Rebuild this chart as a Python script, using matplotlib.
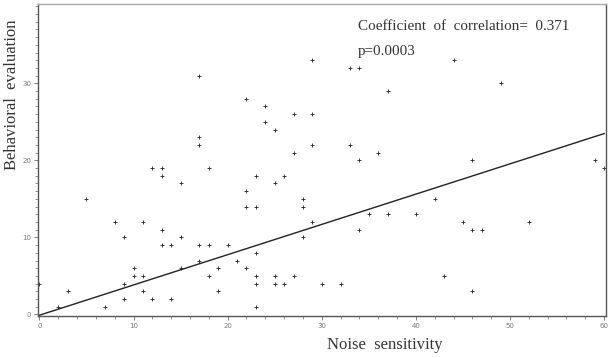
import numpy as np
import matplotlib
matplotlib.use("Agg")
import matplotlib.pyplot as plt
from matplotlib.ticker import MultipleLocator

noise_sensitivity = [0, 2, 3, 5, 7, 8, 9, 9, 9, 10, 10, 11, 11, 11, 12, 12, 13, 13, 13, 13,
                     14, 14, 15, 15, 15, 17, 17, 17, 17, 17, 18, 18, 18, 19, 19, 20, 21, 22, 22, 22,
                     22, 23, 23, 23, 23, 23, 23, 24, 24, 25, 25, 25, 25, 26, 26, 27, 27, 27, 28, 28,
                     28, 29, 29, 29, 29, 30, 32, 33, 33, 34, 34, 34, 35, 36, 37, 37, 40, 42, 43, 44,
                     45, 46, 46, 46, 47, 49, 52, 59, 60]
behavioral_eval = [4, 1, 3, 15, 1, 12, 10, 4, 2, 6, 5, 12, 5, 3, 19, 2, 19, 18, 11, 9,
                   9, 2, 17, 10, 6, 31, 23, 22, 9, 7, 19, 9, 5, 6, 3, 9, 7, 28, 16, 14,
                   6, 18, 14, 8, 5, 4, 1, 27, 25, 24, 17, 5, 4, 18, 4, 26, 21, 5, 15, 14,
                   10, 33, 26, 22, 12, 4, 4, 32, 22, 32, 20, 11, 13, 21, 29, 13, 13, 15, 5, 33,
                   12, 20, 11, 3, 11, 30, 12, 20, 19]

fit_intercept = -0.1
fit_slope = 0.393
x_ticks = [0, 10, 20, 30, 40, 50, 60]
y_ticks = [0, 10, 20, 30]

serif = ["Liberation Serif", "DejaVu Serif"]

fig = plt.figure(figsize=(6.12, 3.58), dpi=100)
ax = fig.add_axes([38/612, 1 - 316/358, (606-38)/612, (316-4)/358])

ax.scatter(noise_sensitivity, behavioral_eval, marker="+", s=12, c="#222222", linewidths=0.6)
xl = np.array([0, 60])
ax.plot(xl, fit_intercept + fit_slope * xl, color="#222222", lw=1.0)

ax.set_xlim(-0.15, 60.2)
ax.set_ylim(-0.2, 40.3)
ax.set_xticks(x_ticks)
ax.set_yticks(y_ticks)
ax.xaxis.set_minor_locator(MultipleLocator(2))
ax.yaxis.set_minor_locator(MultipleLocator(1))
ax.tick_params(axis="both", which="major", labelsize=5, labelcolor="#777777", color="#666666",
               length=3, width=0.6, pad=2)
ax.tick_params(axis="both", which="minor", color="#666666", length=2, width=0.5)
for s in ["left", "bottom", "right"]:
    ax.spines[s].set_color("#555555")
    ax.spines[s].set_linewidth(1.0)
ax.spines["top"].set_color("#aaaaaa")
ax.spines["top"].set_linewidth(1.0)

ax.text(358/612, 1 - 27/358, "Coefficient  of  correlation=  0.371", transform=fig.transFigure,
        family=serif, fontsize=10.9, color="#333333", va="center", ha="left")
ax.text(358/612, 1 - 52/358, "p=0.0003", transform=fig.transFigure,
        family=serif, fontsize=10.9, color="#333333", va="center", ha="left")

fig.text(12/612, 1 - 95/358, "Behavioral  evaluation", rotation=90, family=serif, fontsize=12,
         color="#333333", va="center", ha="center")
fig.text(385/612, 1 - 345/358, "Noise  sensitivity", family=serif, fontsize=12,
         color="#333333", va="center", ha="center")

fig.savefig("out.png", dpi=100)
